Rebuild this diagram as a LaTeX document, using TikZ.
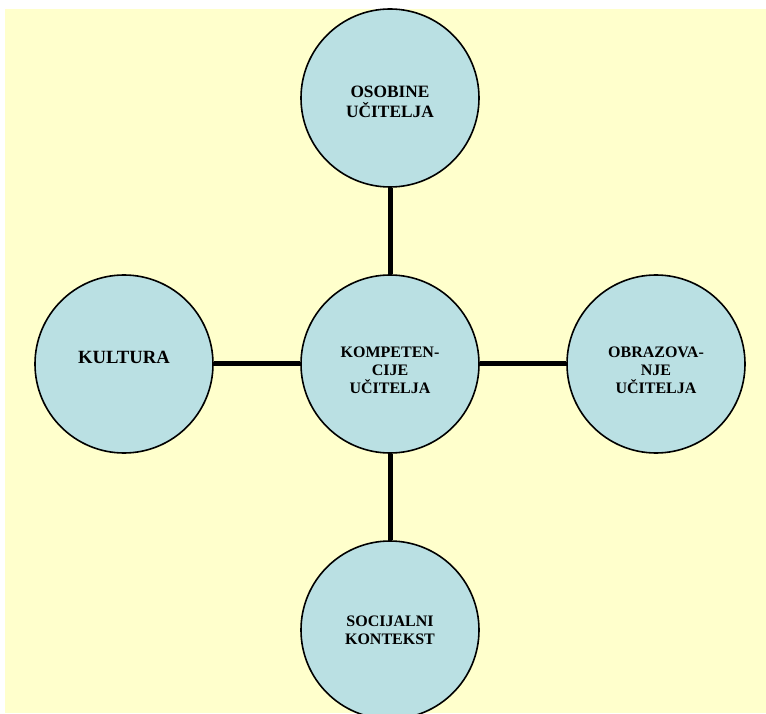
\documentclass[tikz,border=0pt]{standalone}
\usepackage{fontspec}
\setmainfont{Liberation Serif}
\usepackage{xcolor}
\usepackage{tikz}
\usetikzlibrary{shapes.geometric, positioning}
\definecolor{bgyellow}{RGB}{255,255,204}
\definecolor{circblue}{RGB}{186,224,227}
\tikzstyle{round}=[draw=black,line width=1.2pt,circle,fill=circblue,minimum size=133.5pt,inner sep=0pt,align=center,font=\bfseries\fontsize{12}{13.5}\selectfont]
\tikzstyle{link}=[line width=3.75pt]

\begin{document}
\begin{tikzpicture}[node distance=199.5pt]
    \clip (-292.5pt,-261.75pt) rectangle (282pt,273pt);
    \fill[bgyellow] (-288.75pt,-261.75pt) rectangle (282pt,266.25pt);

    % struts push the text a little off the middle, as in the original
    \node[round] (komp) {\rule{0pt}{17pt}KOMPETEN-\\CIJE\\UČITELJA};
    \node[round, above of=komp, font=\bfseries\fontsize{13}{14.5}\selectfont] (osobine) {\rule{0pt}{14.5pt}OSOBINE\\UČITELJA};
    \node[round, left of=komp, font=\bfseries\fontsize{14}{15.5}\selectfont] (kultura) {\rule[-10.5pt]{0pt}{10.5pt}KULTURA};
    \node[round, right of=komp] (obraz) {\rule{0pt}{18pt}OBRAZOVA-\\NJE\\UČITELJA};
    \node[round, below of=komp] (soc) {SOCIJALNI\\KONTEKST};

    \draw[link] (osobine) -- (komp);
    \draw[link] (kultura) -- (komp);
    \draw[link] (komp) -- (obraz);
    \draw[link] (komp) -- (soc);
\end{tikzpicture}
\end{document}
